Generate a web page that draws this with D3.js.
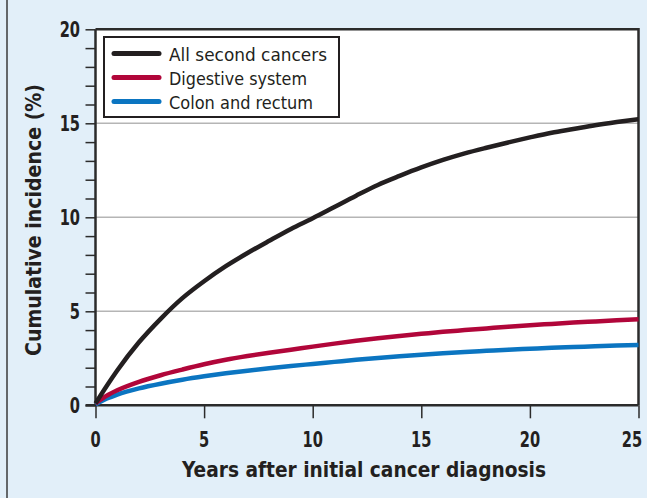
<!DOCTYPE html>
<html lang="en">
<head>
  <meta charset="UTF-8">
  <title>Cumulative incidence of second cancers</title>
  <script src="https://d3js.org/d3.v7.min.js"></script>
  <style>
    body { margin: 0; background: #e2eff9; }
    svg { display: block; }
    .narrow { font-family: "Liberation Sans Narrow", "DejaVu Sans", sans-serif; font-stretch: condensed; }
  </style>
</head>
<body>
  <div id="chart"></div>
  <script>
    // data
    const years = [0, 0.5, 1, 2, 3, 4, 5, 6, 7, 8, 9, 10, 11, 12, 13, 14, 15, 16, 17, 18, 19, 20, 21, 22, 23, 24, 25];
    const allSecond = [0.1, 1.0, 1.85, 3.35, 4.6, 5.7, 6.6, 7.4, 8.1, 8.75, 9.38, 9.95, 10.55, 11.15, 11.72, 12.2, 12.65, 13.05, 13.4, 13.7, 13.98, 14.25, 14.5, 14.7, 14.9, 15.07, 15.22];
    const digestive = [0.1, 0.5, 0.8, 1.25, 1.6, 1.9, 2.18, 2.42, 2.62, 2.8, 2.96, 3.12, 3.28, 3.43, 3.57, 3.69, 3.8, 3.91, 4.0, 4.09, 4.18, 4.26, 4.33, 4.4, 4.46, 4.52, 4.58];
    const colorectal = [0.05, 0.35, 0.57, 0.9, 1.15, 1.36, 1.54, 1.7, 1.84, 1.97, 2.09, 2.2, 2.31, 2.42, 2.52, 2.61, 2.69, 2.77, 2.84, 2.9, 2.96, 3.01, 3.06, 3.1, 3.14, 3.18, 3.21];
    const seriesNames = ["All second cancers", "Digestive system", "Colon and rectum"];
    const seriesColors = ["#231f20", "#b1063a", "#0b75c1"];
    const xTicks = [0, 5, 10, 15, 20, 25];
    const yTicks = [0, 5, 10, 15, 20];
    const gridValues = [5, 10, 15];

    const width = 647, height = 498;
    const x = d3.scaleLinear().domain([0, 25]).range([95.5, 638.5]);
    const y = d3.scaleLinear().domain([0, 20]).range([405.3, 29.3]);
    const squeeze = 0.74; // condensed look for the bold labels

    const svg = d3.select("#chart").append("svg")
      .attr("width", width)
      .attr("height", height);

    svg.append("rect").attr("width", width).attr("height", height).attr("fill", "#e2eff9");
    // left edge rule
    svg.append("line")
      .attr("x1", 7).attr("x2", 7).attr("y1", 0).attr("y2", height)
      .attr("stroke", "#3a3a3a").attr("stroke-width", 1.5);

    // plot panel
    svg.append("rect")
      .attr("x", x(0)).attr("y", y(20))
      .attr("width", x(25) - x(0)).attr("height", y(0) - y(20))
      .attr("fill", "#fff");

    svg.append("g").selectAll("line")
      .data(gridValues)
      .join("line")
      .attr("x1", x(0)).attr("x2", x(25))
      .attr("y1", d => y(d)).attr("y2", d => y(d))
      .attr("stroke", "#b5b5b5").attr("stroke-width", 1.5);

    // top and right frame
    svg.append("path")
      .attr("d", `M${x(0)},${y(20)}H${x(25)}V${y(0)}`)
      .attr("fill", "none").attr("stroke", "#2b2b2b").attr("stroke-width", 2.5);

    // y axis: minor ticks every 1, labels every 5
    const yAxis = svg.append("g")
      .attr("transform", `translate(${x(0)},0)`)
      .call(d3.axisLeft(y).tickValues(d3.range(0, 21, 1)).tickSize(10).tickFormat(""));
    yAxis.select(".domain").attr("stroke", "#2b2b2b").attr("stroke-width", 2.5).attr("d", `M0,${y(0)}V${y(20)}`);
    yAxis.selectAll(".tick line").attr("stroke", "#2b2b2b").attr("stroke-width", 1.5);

    svg.append("g").selectAll("text")
      .data(yTicks)
      .join("text")
      .attr("class", "narrow")
      .attr("transform", d => `translate(80,${y(d)}) scale(${squeeze},1)`)
      .attr("dy", "0.36em")
      .attr("text-anchor", "end")
      .attr("font-size", 22).attr("font-weight", "bold")
      .attr("fill", "#231f20")
      .text(d => d);

    // x axis
    const xAxis = svg.append("g")
      .attr("transform", `translate(0,${y(0)})`)
      .call(d3.axisBottom(x).tickValues(xTicks).tickSize(13).tickFormat(""));
    xAxis.select(".domain").attr("stroke", "#2b2b2b").attr("stroke-width", 2.5).attr("d", `M${x(0) - 10},0H${x(25)}`);
    xAxis.selectAll(".tick line").attr("stroke", "#2b2b2b").attr("stroke-width", 1.5);

    svg.append("g").selectAll("text")
      .data(xTicks)
      .join("text")
      .attr("class", "narrow")
      .attr("transform", d => `translate(${Math.min(x(d), 632)},447) scale(${squeeze},1)`)
      .attr("text-anchor", "middle")
      .attr("font-size", 22).attr("font-weight", "bold")
      .attr("fill", "#231f20")
      .text(d => d);

    // axis titles
    svg.append("text")
      .attr("class", "narrow")
      .attr("x", 364).attr("y", 477)
      .attr("text-anchor", "middle")
      .attr("font-size", 22).attr("font-weight", "bold")
      .attr("fill", "#231f20")
      .attr("textLength", 364).attr("lengthAdjust", "spacingAndGlyphs")
      .text("Years after initial cancer diagnosis");

    svg.append("text")
      .attr("class", "narrow")
      .attr("transform", "translate(41,220) rotate(-90)")
      .attr("text-anchor", "middle")
      .attr("font-size", 22).attr("font-weight", "bold")
      .attr("fill", "#231f20")
      .attr("textLength", 272).attr("lengthAdjust", "spacingAndGlyphs")
      .text("Cumulative incidence (%)");

    // curves
    const allSeries = [allSecond, digestive, colorectal];
    const line = d3.line()
      .x((d, i) => x(years[i]))
      .y(d => y(d))
      .curve(d3.curveMonotoneX);

    svg.append("g").selectAll("path")
      .data(allSeries.slice().reverse())
      .join("path")
      .attr("d", line)
      .attr("fill", "none")
      .attr("stroke", (d, i) => seriesColors[2 - i])
      .attr("stroke-width", 4.5)
      .attr("stroke-linejoin", "round");

    // legend
    const legend = svg.append("g");
    legend.append("rect")
      .attr("x", 104).attr("y", 37)
      .attr("width", 235).attr("height", 80)
      .attr("fill", "#fff").attr("stroke", "#231f20").attr("stroke-width", 2);

    const rows = legend.selectAll("g")
      .data(seriesNames)
      .join("g")
      .attr("transform", (d, i) => `translate(0,${53.5 + i * 24})`);
    rows.append("line")
      .attr("x1", 114).attr("x2", 159)
      .attr("stroke", (d, i) => seriesColors[i])
      .attr("stroke-width", 5).attr("stroke-linecap", "round");
    const legendWidths = [158, 138, 144];
    rows.append("text")
      .attr("class", "narrow")
      .attr("x", 169).attr("y", 7)
      .attr("font-size", 18)
      .attr("fill", "#231f20")
      .attr("textLength", (d, i) => legendWidths[i]).attr("lengthAdjust", "spacingAndGlyphs")
      .text(d => d);
  </script>
</body>
</html>
